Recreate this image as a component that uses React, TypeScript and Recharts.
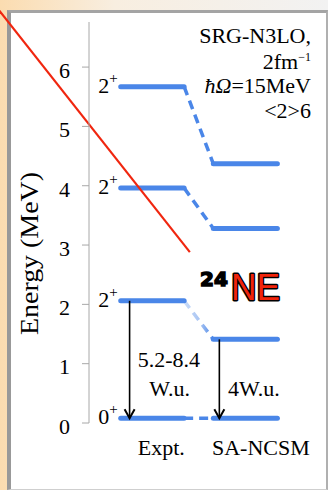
import React from "react";
import { ComposedChart, Line, XAxis, YAxis, ReferenceLine, ReferenceDot } from "recharts";

// ─── Data ─────────────────────────────────────────────────────────────────────

const spins = ["0", "2", "2", "2"]; // all positive parity
const exptEnergy = [0.08, 2.06, 3.96, 5.67];
const ncsmEnergy = [0.08, 1.41, 3.28, 4.37];
const columns = ["Expt.", "SA-NCSM"];
const energyTicks = [0, 1, 2, 3, 4, 5, 6];
const exptBE2 = ["5.2-8.4", "W.u."];
const ncsmBE2 = ["4W.u."];
const modelLabel = ["SRG-N3LO,", "2fm", "ħΩ=15MeV", "<2>6"];

// ─── Layout helpers ───────────────────────────────────────────────────────────

const EXPT = [0, 1];
const NCSM = [1.46, 2.47];
const BLUE = "#4a86e8";
const SERIF = "'Liberation Serif', 'Times New Roman', serif";
const FS = 22;

const exptSeries = exptEnergy.map((e) => [
  { x: EXPT[0], y: e },
  { x: EXPT[1], y: e },
]);
const ncsmSeries = ncsmEnergy.map((e) => [
  { x: NCSM[0], y: e },
  { x: NCSM[1], y: e },
]);
const links = exptEnergy.map((e, i) => [
  { x: EXPT[1], y: e },
  { x: NCSM[0], y: ncsmEnergy[i] },
]);
const exptArrow = [
  { x: 0.14, y: exptEnergy[1] },
  { x: 0.14, y: exptEnergy[0] },
];
const ncsmArrow = [
  { x: 1.555, y: ncsmEnergy[1] },
  { x: 1.555, y: ncsmEnergy[0] },
];

// arrowhead at the lower end of a transition
const ArrowDot = (p: any) => {
  const { cx, cy, index } = p;
  if (index !== 1 || cx == null) return <g key={`a${index}`} />;
  return (
    <path
      key={`a${index}`}
      d={`M${cx - 5},${cy - 9} L${cx},${cy} L${cx + 5},${cy - 9}`}
      fill="none"
      stroke="#000"
      strokeWidth={2}
    />
  );
};

const spinLabel = (i: number) => (p: any) => {
  const { x, y, index } = p;
  if (index !== 0) return null;
  return (
    <text x={x - 3} y={y + 6} textAnchor="end" fontFamily={SERIF} fontSize={FS} fill="#000">
      {spins[i]}
      <tspan fontSize={15} dy={-10}>+</tspan>
    </text>
  );
};

const textAt = (line: string) => (p: any) => (
  <text
    x={p.cx}
    y={p.cy}
    textAnchor="middle"
    dy="0.35em"
    fontFamily={SERIF}
    fontSize={FS}
    fill="#000"
  >
    {line}
  </text>
);

// ─── Component ────────────────────────────────────────────────────────────────

export default function App() {
  return (
    <div
      style={{
        position: "absolute",
        left: 0,
        top: 0,
        width: 328,
        height: 490,
        overflow: "hidden",
        fontFamily: SERIF,
        background: "linear-gradient(90deg, #fbdcb0 0%, #f8eee0 35%, #f2f2f2 100%)",
      }}
    >
      <div
        style={{
          position: "absolute",
          left: 7,
          top: 10,
          width: 321,
          height: 480,
          boxSizing: "border-box",
          background: "#fff",
          borderLeft: "4px solid #999",
          borderTop: "3px solid #a4a4a4",
          borderRight: "2px solid #b0b0b0",
          borderBottom: "1px solid #cfcfcf",
        }}
      />
      <div style={{ position: "absolute", left: 0, top: 0 }}>
        <ComposedChart
          width={328}
          height={490}
          margin={{ top: 22, right: 17, bottom: 27, left: 0 }}
        >
          <defs>
            <linearGradient id="fade" x1="0" y1="0" x2="1" y2="0">
              <stop offset="0%" stopColor="#c9dbf8" />
              <stop offset="55%" stopColor="#a9c5f3" />
              <stop offset="100%" stopColor={BLUE} />
            </linearGradient>
          </defs>
          <XAxis
            type="number"
            dataKey="x"
            domain={[-0.5, 3]}
            allowDataOverflow
            ticks={[0.64, 2.21]}
            tickFormatter={(_v: number, i: number) => columns[i]}
            axisLine={false}
            tickLine={false}
            tickMargin={10}
            height={40}
            tick={{ fill: "#000", fontSize: FS, fontFamily: SERIF }}
          />
          <YAxis
            type="number"
            dataKey="y"
            domain={[0, 6.76]}
            allowDataOverflow
            ticks={energyTicks}
            width={89}
            tickSize={7}
            tickMargin={12}
            stroke="#a8a8a8"
            tick={{ fill: "#000", fontSize: FS, fontFamily: SERIF, dy: 3 }}
            label={{
              value: "Energy (MeV)",
              content: (p: any) => {
                const vb = p.viewBox;
                const cx = vb.x + 38;
                const cy = vb.y + vb.height / 2 + 31;
                return (
                  <text
                    x={cx}
                    y={cy}
                    transform={`rotate(-90 ${cx} ${cy})`}
                    textAnchor="middle"
                    fontFamily={SERIF}
                    fontSize={25}
                    textLength={163}
                    lengthAdjust="spacingAndGlyphs"
                    fill="#000"
                  >
                    Energy (MeV)
                  </text>
                );
              },
            }}
          />

          {/* connectors between experiment and theory */}
          {links.map((d, i) => (
            <Line
              key={`link${i}`}
              data={d}
              dataKey="y"
              type="linear"
              stroke={i === 1 ? "url(#fade)" : BLUE}
              strokeWidth={3.5}
              strokeDasharray="9 6"
              dot={false}
              activeDot={false}
              isAnimationActive={false}
            />
          ))}

          {/* experimental levels */}
          {exptSeries.map((d, i) => (
            <Line
              key={`expt${i}`}
              data={d}
              dataKey="y"
              type="linear"
              stroke={BLUE}
              strokeWidth={5}
              strokeLinecap="round"
              dot={false}
              activeDot={false}
              label={spinLabel(i)}
              isAnimationActive={false}
            />
          ))}

          {/* SA-NCSM levels */}
          {ncsmSeries.map((d, i) => (
            <Line
              key={`ncsm${i}`}
              data={d}
              dataKey="y"
              type="linear"
              stroke={BLUE}
              strokeWidth={5}
              strokeLinecap="round"
              dot={false}
              activeDot={false}
              isAnimationActive={false}
            />
          ))}

          {/* E2 transitions */}
          <Line
            data={exptArrow}
            dataKey="y"
            type="linear"
            stroke="#000"
            strokeWidth={1.6}
            dot={ArrowDot}
            activeDot={false}
            isAnimationActive={false}
          />
          <Line
            data={ncsmArrow}
            dataKey="y"
            type="linear"
            stroke="#000"
            strokeWidth={1.6}
            dot={ArrowDot}
            activeDot={false}
            isAnimationActive={false}
          />

          <ReferenceDot x={0.76} y={1.08} r={0} ifOverflow="visible" shape={textAt(exptBE2[0])} />
          <ReferenceDot x={0.77} y={0.59} r={0} ifOverflow="visible" shape={textAt(exptBE2[1])} />
          <ReferenceDot x={2.1} y={0.59} r={0} ifOverflow="visible" shape={textAt(ncsmBE2[0])} />

          {/* red slash across the slide */}
          <ReferenceLine
            segment={[
              { x: -1.95, y: 7.0 },
              { x: 1.09, y: 2.88 },
            ]}
            stroke="#f0260f"
            strokeWidth={2.2}
            ifOverflow="visible"
          />
        </ComposedChart>
      </div>

      {/* annotations */}
      <svg
        width={328}
        height={490}
        style={{ position: "absolute", left: 0, top: 0, pointerEvents: "none" }}
      >
        <g fontFamily={SERIF} fontSize={FS} fill="#000" textAnchor="end">
          <text x={311} y={43}>{modelLabel[0]}</text>
          <text x={311} y={69}>
            {modelLabel[1]}
            <tspan fontSize={12} dy={-8}>−1</tspan>
          </text>
          <text x={311} y={93}>
            <tspan fontStyle="italic">ħΩ</tspan>=15MeV
          </text>
          <text x={311} y={118}>{modelLabel[3]}</text>
        </g>
        <text
          x={200}
          y={286}
          fontFamily="'DejaVu Sans', sans-serif"
          fontWeight="bold"
          fontSize={20}
          fill="#000"
          stroke="#000"
          strokeWidth={1.5}
        >
          24
        </text>
        <text
          x={231}
          y={300}
          fontFamily="'Liberation Sans', sans-serif"
          fontSize={37}
          textLength={49}
          lengthAdjust="spacingAndGlyphs"
          fill="#f0240c"
          stroke="#000"
          strokeWidth={3}
          strokeLinejoin="round"
          style={{ paintOrder: "stroke" }}
        >
          NE
        </text>
      </svg>
    </div>
  );
}
